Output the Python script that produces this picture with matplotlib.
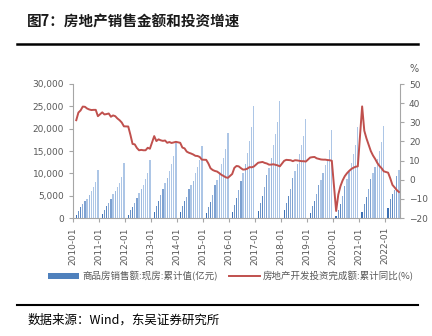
import numpy as np
import matplotlib
matplotlib.use("Agg")
import matplotlib.pyplot as plt
from matplotlib.ticker import FuncFormatter
from matplotlib.lines import Line2D
from matplotlib.patches import Patch

plt.rcParams['font.family'] = ['Noto Sans CJK SC', 'DejaVu Sans']

title = "图7：房地产销售金额和投资增速"
source = "数据来源：Wind，东吴证券研究所"
bar_label = "商品房销售额:现房:累计值(亿元)"
line_label = "房地产开发投资完成额:累计同比(%)"

years = list(range(2010, 2023))
tick_labels = [f"{y}-01" for y in years]

# 商品房销售额:现房:累计值, Feb..Dec of each year (Jan merged into Feb)
sales = {
    2010: [670, 1570, 2460, 3130, 3880, 4330, 5150, 6050, 6870, 8130, 10750],
    2011: [800, 1800, 2600, 3300, 4300, 5300, 6000, 7000, 7900, 9200, 12300],
    2012: [700, 1700, 2500, 3300, 4600, 5500, 6400, 7500, 8700, 10100, 12900],
    2013: [1400, 2800, 3900, 5100, 6600, 7800, 9000, 10600, 12100, 13900, 16800],
    2014: [1400, 2800, 3800, 4800, 6400, 7500, 8400, 10000, 11500, 13100, 16100],
    2015: [1200, 2500, 3700, 5100, 7300, 8600, 10000, 12000, 13500, 15500, 19100],
    2016: [1300, 2900, 4400, 6200, 8400, 10100, 12000, 14600, 17300, 20300, 25100],
    2017: [1600, 3300, 5000, 7000, 9600, 11300, 13400, 16300, 18700, 21500, 26200],
    2018: [1700, 3300, 4900, 6600, 9000, 10500, 12100, 14300, 16300, 18300, 22100],
    2019: [1200, 2700, 3900, 5300, 7300, 8500, 10000, 11900, 13300, 15200, 19700],
    2020: [500, 1700, 3100, 5000, 7200, 8700, 10200, 12300, 14300, 16400, 20300],
    2021: [1300, 3100, 4700, 6500, 8700, 10100, 11500, 13300, 15100, 17000, 20600],
    2022: [2300, 4200, 5300, 6300, 9400, 10800],
}

# 房地产开发投资完成额:累计同比 (%), Feb..Dec
invest = {
    2010: [31.1, 35.1, 36.2, 38.2, 38.1, 37.2, 36.7, 36.4, 36.5, 36.5, 33.2],
    2011: [35.2, 34.1, 34.3, 34.6, 32.9, 33.6, 33.2, 32.0, 31.1, 29.9, 27.9],
    2012: [27.8, 23.5, 18.7, 18.5, 16.6, 15.4, 15.6, 15.4, 15.4, 16.7, 16.2],
    2013: [22.8, 20.2, 21.1, 20.6, 20.3, 20.5, 19.3, 19.7, 19.2, 19.5, 19.8],
    2014: [19.3, 16.8, 16.4, 14.7, 14.1, 13.7, 13.2, 12.5, 12.4, 11.9, 10.5],
    2015: [10.4, 8.5, 6.0, 5.1, 4.6, 4.3, 3.5, 2.6, 2.0, 1.3, 1.0],
    2016: [3.0, 6.2, 7.2, 7.0, 6.1, 5.3, 5.4, 5.8, 6.6, 6.5, 6.9],
    2017: [8.9, 9.1, 9.3, 8.8, 8.5, 7.9, 7.9, 8.1, 7.8, 7.5, 7.0],
    2018: [9.9, 10.4, 10.3, 10.2, 9.7, 10.2, 10.1, 9.9, 9.7, 9.7, 9.5],
    2019: [11.6, 11.8, 11.9, 11.2, 10.9, 10.6, 10.5, 10.5, 10.3, 10.2, 9.9],
    2020: [-16.3, -7.7, -3.3, -0.3, 1.9, 3.4, 4.6, 5.6, 6.3, 6.8, 7.0],
    2021: [38.3, 25.6, 21.6, 18.3, 15.0, 12.7, 10.9, 8.8, 7.2, 6.0, 4.4],
    2022: [3.7, 0.7, -2.7, -4.0, -5.4, -6.4],
}

# month index positions (Jan 2010 = 0), category centres at +0.5
xs, bars, lines = [], [], []
for y in years:
    for k, v in enumerate(sales[y]):
        xs.append((y - 2010) * 12 + k + 1 + 0.5)
        bars.append(v)
        lines.append(invest[y][k])
xs = np.array(xs)
bars = np.array(bars)
lines = np.array(lines)

fig = plt.figure(figsize=(4.32, 3.36), dpi=100)
ax = fig.add_axes([0.169, 0.351, 0.757, 0.399])
ax2 = ax.twinx()

# Excel-style gradient look: short bars darker, later bars lighter
dark = np.array([0x3d, 0x70, 0xb4]) / 255
light = np.array([0xad, 0xc6, 0xe6]) / 255
cols = []
for y in years:
    n = len(sales[y])
    for k in range(n):
        t = min(1.0, k / 7.0) if k % 2 == 0 else min(1.0, (k + 2) / 7.0)
        cols.append(dark + (light - dark) * t)
ax.bar(xs, bars, width=0.6, color=cols, linewidth=0, zorder=2)

ax2.plot(xs, lines, color='#c0504d', linewidth=1.4, zorder=3)

grey = '#595959'
axis_col = '#a6a6a6'
ax.set_xlim(0, 151)
ax.set_ylim(0, 30000)
ax.set_yticks(range(0, 30001, 5000))
ax.yaxis.set_major_formatter(FuncFormatter(lambda v, p: f"{int(v):,}"))
ax2.set_ylim(-20, 50)
ax2.set_yticks(range(-20, 51, 10))
ax.set_xticks([(y - 2010) * 12 for y in years])
ax.set_xticklabels(tick_labels, rotation=90, fontsize=6.2, color=grey,
                   family='DejaVu Sans')

for a in (ax, ax2):
    a.spines['top'].set_visible(False)
    for s in ('left', 'right', 'bottom'):
        a.spines[s].set_color(axis_col)
        a.spines[s].set_linewidth(0.8)
    a.tick_params(colors=axis_col, labelcolor=grey, labelsize=6.5,
                  length=3, width=0.8)
ax2.spines['left'].set_visible(False)
ax.spines['right'].set_visible(False)
ax2.spines['bottom'].set_visible(False)
for lab in ax.get_yticklabels() + ax2.get_yticklabels():
    lab.set_family('DejaVu Sans')

fig.text(0.958, 0.795, "%", fontsize=7, color=grey, ha='center', va='center',
         family='DejaVu Sans')

handles = [Patch(facecolor='#4f81bd', edgecolor='none'),
           Line2D([0], [0], color='#c0504d', linewidth=1.4)]
fig.legend(handles, [bar_label, line_label], loc='center',
           bbox_to_anchor=(0.535, 0.178), ncol=2, frameon=False,
           fontsize=6.8, labelcolor=grey, handlelength=3.3, handleheight=0.5,
           handletextpad=0.3, columnspacing=1.2)

fig.text(0.063, 0.937, title, fontsize=10.5, fontweight='bold',
         color='#1a1a1a', ha='left', va='center')
fig.add_artist(Line2D([0.04, 0.968], [0.869, 0.869], color='black',
                      linewidth=1.8, transform=fig.transFigure))
fig.add_artist(Line2D([0.04, 0.968], [0.092, 0.092], color='black',
                      linewidth=1.5, transform=fig.transFigure))
fig.text(0.063, 0.047, source, fontsize=9, color='black', ha='left',
         va='center')

fig.savefig("out.png", dpi=100)
